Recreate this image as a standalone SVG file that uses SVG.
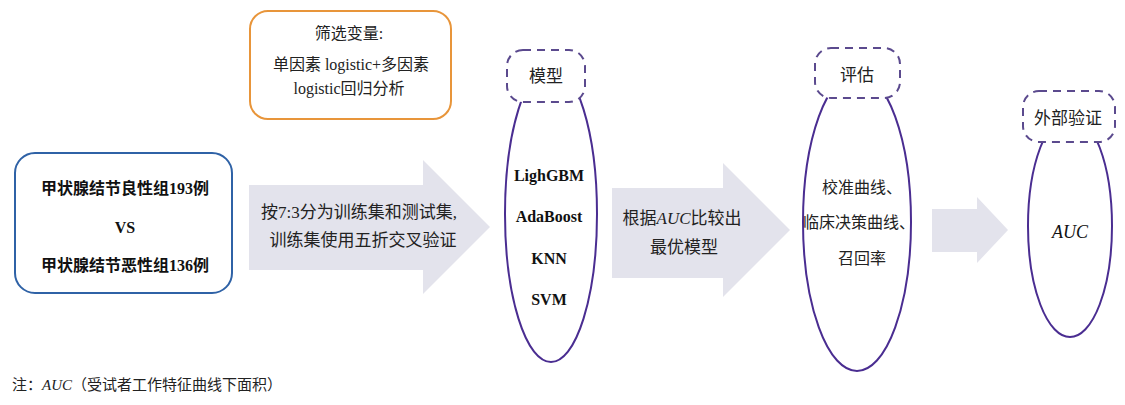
<svg xmlns="http://www.w3.org/2000/svg" width="1125" height="405" viewBox="0 0 1125 405">
<style>
.cn{font-family:"Liberation Serif","Noto Sans CJK SC",serif;font-size:16px;fill:#222;text-anchor:middle}
.b{font-weight:bold;fill:#111}
.en{font-family:"Liberation Serif","Noto Sans CJK SC",serif;font-size:16px;font-weight:bold;fill:#111;text-anchor:middle}
.arrow{fill:#e3e3ec}
.ell{fill:none;stroke:#4a2d91;stroke-width:2}
.dash{fill:#fff;stroke:#5b4a8e;stroke-width:2;stroke-dasharray:8 6}
</style>
<rect width="1125" height="405" fill="#fff"/>
<g id="connectors">
<polygon class="arrow" points="249,185 423,185 423,160 490,227 423,294 423,270 249,270"/>
<polygon class="arrow" points="612,188 723,188 723,163 790,230 723,297 723,278 612,278"/>
<polygon class="arrow" points="932,209 977,209 977,197 1008,230 977,263 977,252 932,252"/>
</g>
<g id="samples">
<rect x="15" y="153" width="217" height="140" rx="20" fill="#fff" stroke="#2f62a6" stroke-width="2"/>
<text class="cn b" x="125" y="194">甲状腺结节良性组193例</text>
<text class="en" x="125" y="233">VS</text>
<text class="cn b" x="125" y="271">甲状腺结节恶性组136例</text>
</g>
<g id="screening">
<rect x="250" y="11" width="201" height="108" rx="18" fill="#fff" stroke="#e8953a" stroke-width="2"/>
<text class="cn" x="349" y="39">筛选变量:</text>
<text class="cn" x="351" y="70">单因素 logistic+多因素</text>
<text class="cn" x="349" y="94">logistic回归分析</text>
</g>
<g id="split-label">
<text class="cn" x="359" y="218" style="font-size:17px">按7:3分为训练集和测试集,</text>
<text class="cn" x="363" y="246" style="font-size:17px">训练集使用五折交叉验证</text>
</g>
<g id="model">
<ellipse class="ell" cx="551" cy="214" rx="46" ry="148"/>
<rect class="dash" x="507" y="50" width="78" height="52" rx="16"/>
<text class="cn" x="546" y="82" style="font-size:17px">模型</text>
<text class="en" x="549" y="181">LighGBM</text>
<text class="en" x="549" y="222">AdaBoost</text>
<text class="en" x="549" y="264">KNN</text>
<text class="en" x="549" y="305">SVM</text>
</g>
<g id="compare-label">
<text class="cn" x="682" y="224" style="font-size:17px">根据<tspan font-style="italic">AUC</tspan>比较出</text>
<text class="cn" x="684" y="253" style="font-size:17px">最优模型</text>
</g>
<g id="evaluate">
<ellipse class="ell" cx="857" cy="222" rx="54" ry="149"/>
<rect class="dash" x="815" y="48" width="85" height="50" rx="16"/>
<text class="cn" x="857" y="81" style="font-size:17px">评估</text>
<text class="cn" x="862" y="193">校准曲线、</text>
<text class="cn" x="859" y="228">临床决策曲线、</text>
<text class="cn" x="862" y="264">召回率</text>
</g>
<g id="external">
<ellipse class="ell" cx="1070" cy="226" rx="42" ry="111"/>
<rect class="dash" x="1023" y="91" width="92" height="51" rx="16"/>
<text class="cn" x="1068" y="124" style="font-size:17px">外部验证</text>
<text class="cn" x="1070" y="238" font-style="italic" style="font-size:18px;fill:#111">AUC</text>
</g>
<g id="note">
<text class="cn" x="12" y="390" style="text-anchor:start;font-size:15px">注：<tspan font-style="italic">AUC</tspan>（受试者工作特征曲线下面积）</text>
</g>
</svg>
